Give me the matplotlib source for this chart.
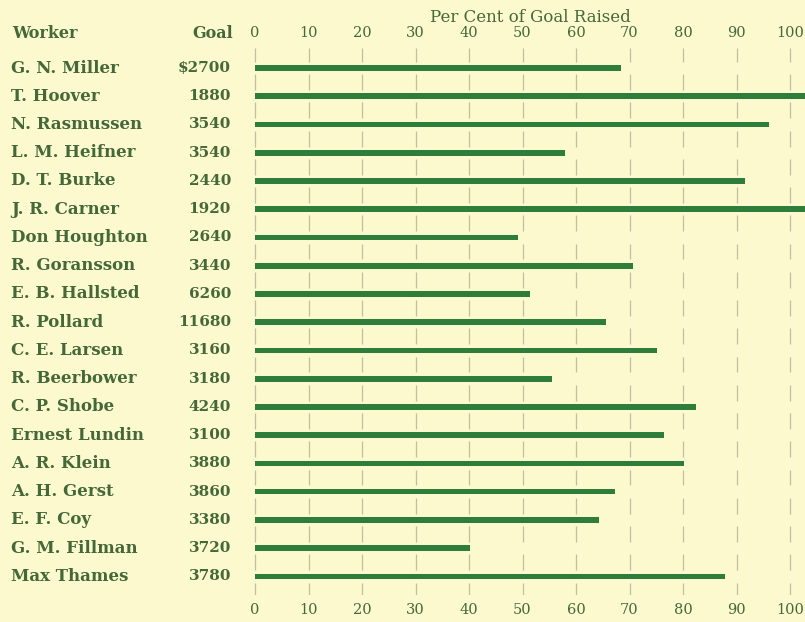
import matplotlib
matplotlib.use("Agg")
import matplotlib.pyplot as plt
import matplotlib.transforms as mtransforms
import numpy as np

workers = ["G. N. Miller", "T. Hoover", "N. Rasmussen", "L. M. Heifner", "D. T. Burke",
           "J. R. Carner", "Don Houghton", "R. Goransson", "E. B. Hallsted", "R. Pollard",
           "C. E. Larsen", "R. Beerbower", "C. P. Shobe", "Ernest Lundin", "A. R. Klein",
           "A. H. Gerst", "E. F. Coy", "G. M. Fillman", "Max Thames"]
goals = ["$2700", "1880", "3540", "3540", "2440", "1920", "2640", "3440", "6260", "11680",
         "3160", "3180", "4240", "3100", "3880", "3860", "3380", "3720", "3780"]
pct_raised = [68.4, 105, 96.1, 57.9, 91.6, 105, 49.1, 70.7, 51.4, 65.6,
              75.1, 55.6, 82.4, 76.4, 80.1, 67.2, 64.3, 40.1, 87.9]
ticks = [0, 10, 20, 30, 40, 50, 60, 70, 80, 90, 100]

BG = "#fcf9cf"
BAR = "#2e7d3a"
TXT = "#456838"
GRID = "#c2bfa0"

W, H = 805, 622
TOP_PX, BOT_PX = 48, 595
fig = plt.figure(figsize=(W / 100, H / 100), dpi=100, facecolor=BG)
ax = fig.add_axes([245 / W, 1 - BOT_PX / H, 560 / W, (BOT_PX - TOP_PX) / H])
ax.set_facecolor(BG)

y = np.arange(len(workers))
ytop = -(68 - TOP_PX) / 28.24
ybot = 18 + (BOT_PX - 576.4) / 28.24
ax.set_xlim(-1.87, 102.8)
ax.set_ylim(ybot, ytop)

# broken vertical gridlines between bars
for t in ticks:
    segs_lo = np.concatenate([[ytop], y + 0.22])
    segs_hi = np.concatenate([y - 0.22, [ybot]])
    ax.vlines([t] * len(segs_lo), segs_lo, segs_hi, color=GRID, lw=0.9, zorder=1)

ax.barh(y, pct_raised, height=0.2, color=BAR, zorder=2)

for s in ax.spines.values():
    s.set_visible(False)

ax.set_xticks(ticks)
ax.tick_params(axis="x", which="both", length=0, top=True, labeltop=True,
               bottom=True, labelbottom=True, colors=TXT, labelsize=10.5, pad=6)
for lab in ax.get_xticklabels():
    lab.set_family("DejaVu Serif")
ax.set_yticks([])

fig.text(530 / W, 1 - 17 / H, "Per Cent of Goal Raised", ha="center", va="center",
         family="DejaVu Serif", fontsize=12, color=TXT)

trans = mtransforms.blended_transform_factory(fig.transFigure, ax.transData)
for i, (wk, g) in enumerate(zip(workers, goals)):
    ax.text(11 / W, i, wk, transform=trans, ha="left", va="center",
            family="DejaVu Serif", fontweight="bold", fontsize=12, color=TXT)
    ax.text(231 / W, i, g, transform=trans, ha="right", va="center",
            family="DejaVu Serif", fontweight="bold", fontsize=11, color=TXT)

fig.text(12 / W, 1 - 34 / H, "Worker", ha="left", va="center",
         family="DejaVu Serif", fontweight="bold", fontsize=11.5, color=TXT)
fig.text(233 / W, 1 - 34 / H, "Goal", ha="right", va="center",
         family="DejaVu Serif", fontweight="bold", fontsize=11.5, color=TXT)

fig.savefig("out.png", dpi=100, facecolor=BG)
